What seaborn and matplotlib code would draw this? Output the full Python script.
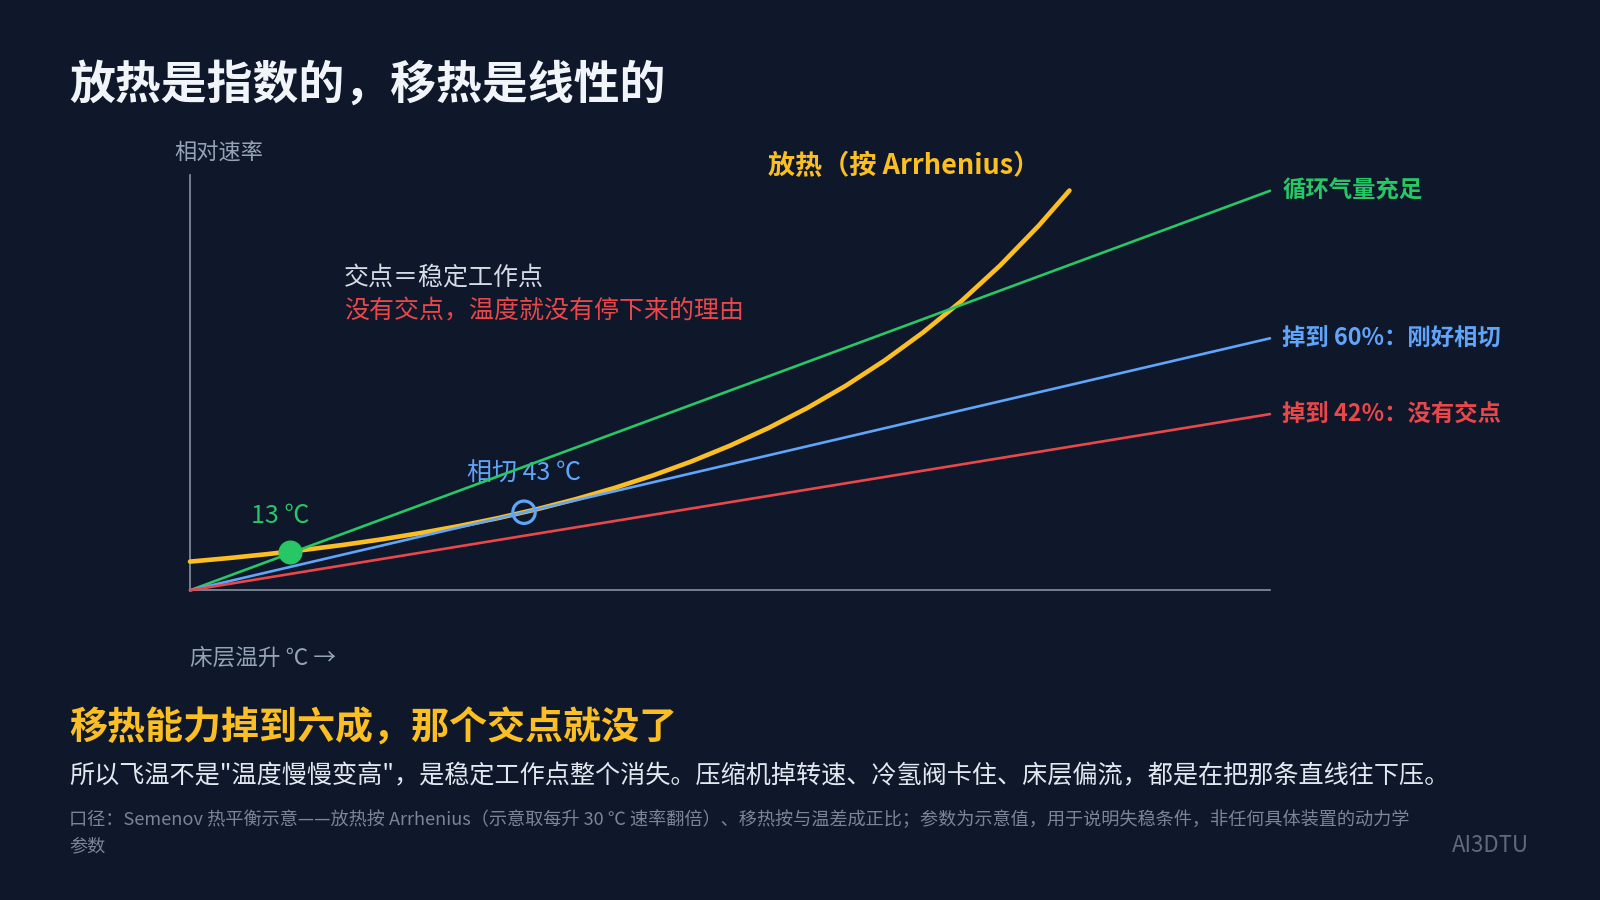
import matplotlib
matplotlib.use("Agg")
import matplotlib.pyplot as plt
import seaborn as sns

# values (x = bed temperature rise in °C, y = relative rate)
heat_T = [0, 5, 10, 15, 20, 25, 30, 35, 40, 45, 50, 55, 60, 65, 70, 75, 80, 85, 90, 95, 100, 105, 110, 114]
heat_Q = [1.000, 1.122, 1.260, 1.414, 1.587, 1.782, 2.000, 2.245, 2.520, 2.828, 3.175, 3.564,
          4.000, 4.490, 5.040, 5.657, 6.350, 7.127, 8.000, 8.980, 10.079, 11.314, 12.699, 13.93]

line_T = [0, 140]
removal_full = [0, 13.92]
removal_60 = [0, 8.78]
removal_42 = [0, 6.14]

stable_T, stable_Q = 12.9, 1.345
tangent_T, tangent_Q = 43.3, 2.72

BG = "#0f172a"
AMBER = "#fbbf24"
GREEN = "#27c766"
BLUE = "#60a5fa"
RED = "#e9474a"
GRAY = "#94a3b8"
AXIS = "#8891a3"

sns.set_theme(style="white", rc={"figure.facecolor": BG, "axes.facecolor": BG})
plt.rcParams["font.family"] = ["Noto Sans CJK SC", "DejaVu Sans"]

W, H = 1600, 900
fig = plt.figure(figsize=(16, 9), dpi=100)


def fx(px):
    return px / W


def fy(py):
    return 1 - py / H


ax = fig.add_axes([fx(190), fy(590.3), 1080 / W, (590.3 - 175) / H])
ax.set_xlim(0, 140)
ax.set_ylim(0, 14.47)

sns.lineplot(x=heat_T, y=heat_Q, ax=ax, color=AMBER, linewidth=3.3,
             solid_capstyle="round", clip_on=False, zorder=3)
for vals, col in [(removal_full, GREEN), (removal_60, BLUE), (removal_42, RED)]:
    sns.lineplot(x=line_T, y=vals, ax=ax, color=col, linewidth=1.9,
                 solid_capstyle="round", clip_on=False, zorder=4)

ax.scatter([stable_T], [stable_Q], s=300, color=GREEN, zorder=6, clip_on=False, linewidths=0)
ax.scatter([tangent_T], [tangent_Q], s=260, facecolors="none", edgecolors=BLUE,
           linewidths=2.3, zorder=6, clip_on=False)

ax.annotate("13 ℃", xy=(stable_T, stable_Q), xytext=(-7, 25.5), textcoords="offset points",
            ha="center", va="center", fontsize=18, color=GREEN, fontweight="medium")
ax.annotate("相切 43 ℃", xy=(tangent_T, tangent_Q), xytext=(0, 28), textcoords="offset points",
            ha="center", va="center", fontsize=18, color=BLUE, fontweight="medium")

end_labels = [
    (removal_full[-1], "循环气量充足", GREEN),
    (removal_60[-1], "掉到 60%：刚好相切", BLUE),
    (removal_42[-1], "掉到 42%：没有交点", RED),
]
for yv, txt, col in end_labels:
    ax.annotate(txt, xy=(line_T[-1], yv), xytext=(9, 0), textcoords="offset points",
                ha="left", va="center", fontsize=16.8, color=col, fontweight="bold")

ax.set_xticks([])
ax.set_yticks([])
ax.set_xlabel("")
ax.set_ylabel("")
for side in ["top", "right"]:
    ax.spines[side].set_visible(False)
for side in ["left", "bottom"]:
    ax.spines[side].set_color(AXIS)
    ax.spines[side].set_linewidth(1.2)

# texts
fig.text(fx(69), fy(86), "放热是指数的，移热是线性的", fontsize=33, fontweight="bold",
         color="#f1f5f9", va="center", ha="left")
fig.text(fx(174), fy(153), "相对速率", fontsize=16, color=GRAY, va="center", ha="left")
fig.text(fx(190), fy(658), "床层温升 ℃ →", fontsize=16.3, color=GRAY, va="center", ha="left")
fig.text(fx(768), fy(166), "放热（按 Arrhenius）", fontsize=19.5, fontweight="bold",
         color=AMBER, va="center", ha="left")
fig.text(fx(344), fy(279), "交点＝稳定工作点", fontsize=18, color="#d6dce6", va="center", ha="left")
fig.text(fx(344), fy(311.7), "没有交点，温度就没有停下来的理由", fontsize=18, color=RED,
         va="center", ha="left")

fig.text(fx(69), fy(728), "移热能力掉到六成，那个交点就没了", fontsize=27.4, fontweight="bold",
         color=AMBER, va="center", ha="left")
fig.text(fx(69), fy(776),
         "所以飞温不是\"温度慢慢变高\"，是稳定工作点整个消失。压缩机掉转速、冷氢阀卡住、床层偏流，都是在把那条直线往下压。",
         fontsize=18.1, color="#e2e8f0", va="center", ha="left")
fig.text(fx(69), fy(819.5),
         "口径：Semenov 热平衡示意——放热按 Arrhenius（示意取每升 30 ℃ 速率翻倍）、移热按与温差成正比；参数为示意值，用于说明失稳条件，非任何具体装置的动力学",
         fontsize=13.1, color="#7b8598", va="center", ha="left")
fig.text(fx(69), fy(846), "参数", fontsize=13.1, color="#7b8598", va="center", ha="left")
fig.text(fx(1529), fy(846), "AI3DTU", fontsize=16, color="#5f6a7d", va="center", ha="right")

fig.savefig("out.png", dpi=100, facecolor=BG)
